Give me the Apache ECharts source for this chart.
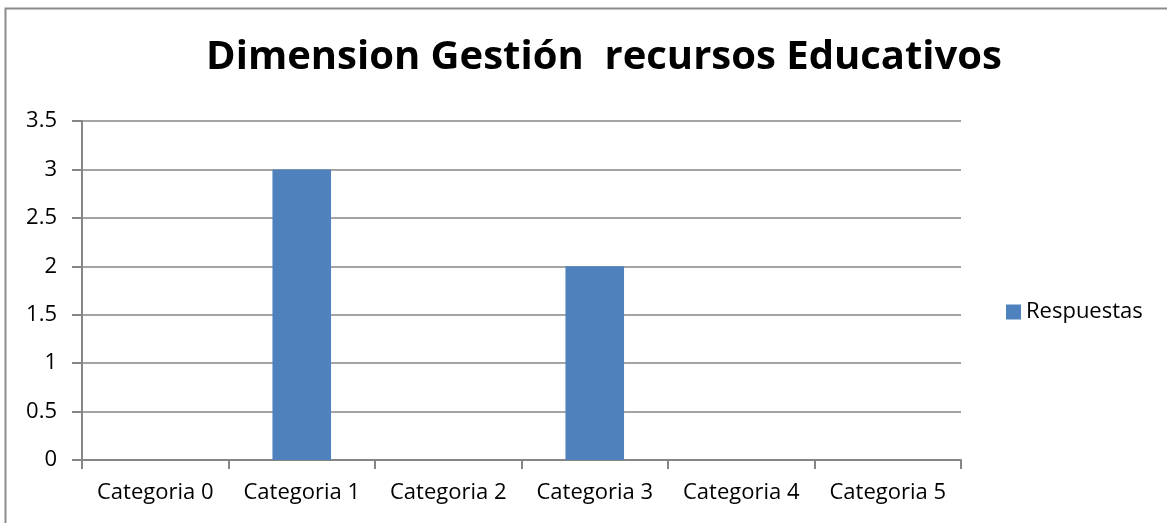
<!DOCTYPE html>
<html>
<head>
<meta charset="utf-8">
<script src="https://cdn.jsdelivr.net/npm/echarts@6/dist/echarts.min.js"></script>
<style>
  html, body { margin: 0; padding: 0; background: #fff; }
  #chart { width: 1167px; height: 523px; }
</style>
</head>
<body>
<div id="chart"></div>
<script>
// datos del grafico
var categorias = ["Categoria 0", "Categoria 1", "Categoria 2", "Categoria 3", "Categoria 4", "Categoria 5"];
var respuestas = [0, 3, 0, 2, 0, 0];
var titulo = "Dimension Gestión  recursos Educativos";

var chart = echarts.init(document.getElementById("chart"));
var fuente = "'Open Sans', sans-serif";

chart.setOption({
  animation: false,
  textStyle: { fontFamily: fuente },
  title: {
    text: titulo,
    left: 599,
    top: 33,
    textAlign: "center",
    textStyle: { fontSize: 40, fontWeight: "bold", color: "#000", fontFamily: fuente }
  },
  graphic: [{
    type: "rect",
    shape: { x: 5.5, y: 8.5, width: 1300, height: 700 },
    style: { fill: "none", stroke: "#8c8c8c", lineWidth: 2 },
    silent: true
  }],
  legend: {
    data: ["Respuestas"],
    left: 1001,
    top: 296,
    itemWidth: 15,
    itemHeight: 15,
    itemGap: 6,
    icon: "rect",
    textStyle: { fontSize: 22, color: "#000", fontFamily: fuente }
  },
  grid: { left: 82, right: 206, top: 121, bottom: 63 },
  xAxis: {
    type: "category",
    data: categorias,
    axisLine: { lineStyle: { color: "#868686", width: 2 } },
    axisTick: { show: true, interval: 0, length: 9, lineStyle: { color: "#868686", width: 2 } },
    axisLabel: { interval: 0, hideOverlap: false, fontSize: 22, color: "#000", margin: 22, fontFamily: fuente }
  },
  yAxis: {
    type: "value",
    min: 0,
    max: 3.5,
    interval: 0.5,
    axisLine: { show: true, lineStyle: { color: "#868686", width: 2 } },
    axisTick: { show: true, length: 10, lineStyle: { color: "#868686", width: 2 } },
    splitLine: { lineStyle: { color: "#868686", width: 1.5 } },
    axisLabel: { fontSize: 22, color: "#000", margin: 25, fontFamily: fuente }
  },
  series: [{
    name: "Respuestas",
    type: "bar",
    data: respuestas,
    barWidth: "40%",
    itemStyle: { color: "#4F81BD" }
  }]
});
</script>
</body>
</html>
